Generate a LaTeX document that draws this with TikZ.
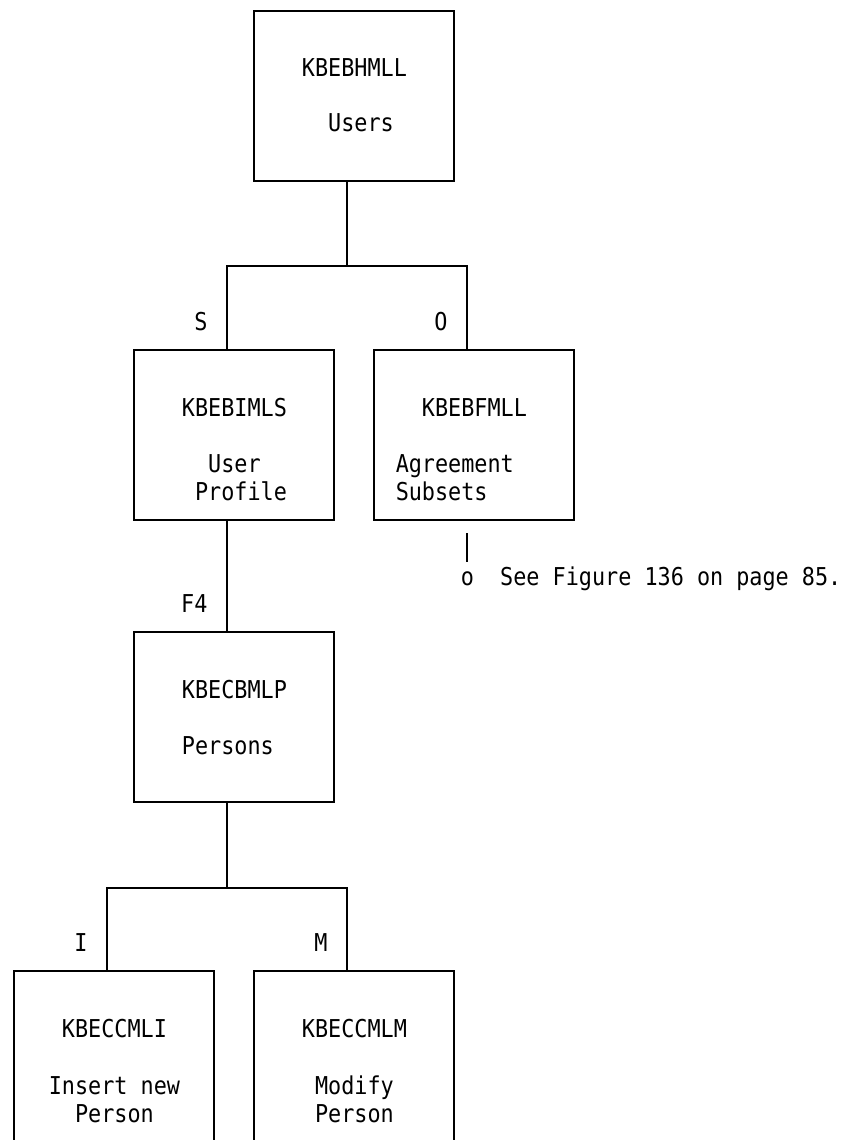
\documentclass[tikz,border=0pt]{standalone}
\usepackage{fontspec}
\setmonofont[FakeStretch=0.886]{DejaVu Sans Mono}

\begin{document}
\begin{tikzpicture}[x=0.02cm, y=-0.02cm,
    box/.style={draw, line width=1pt, minimum width=4cm, minimum height=3.4cm, inner sep=0pt},
    txt/.style={anchor=base west, inner sep=0pt, font=\ttfamily\fontsize{14}{16}\selectfont},
    lbl/.style={txt, anchor=base east},
    link/.style={line width=1pt}]
    \useasboundingbox (0,0) rectangle (850,1140);

    % Program boxes
    \node[box] (users) at (354,96) {};
    \node[box] (profile) at (234,435) {};
    \node[box] (agree) at (474,435) {};
    \node[box] (persons) at (234,717) {};
    \node[box, minimum height=3.5cm] (insert) at (114,1058.5) {};
    \node[box, minimum height=3.5cm] (modify) at (354,1058.5) {};

    % Box texts
    \foreach \x/\y/\t [count=\i] in {
        301.6/76/KBEBHMLL, 327.8/131/Users,
        181.6/416/KBEBIMLS, 207.8/472/User, 194.7/500/Profile,
        421.6/416/KBEBFMLL, 395.4/472/Agreement, 395.4/500/Subsets,
        181.6/698/KBECBMLP, 181.6/754/Persons,
        61.6/1037/KBECCMLI, 48.5/1094/Insert new, 74.7/1122/Person,
        301.6/1037/KBECCMLM, 314.7/1094/Modify, 314.7/1122/Person} {
        \node[txt] (t\i) at (\x,\y) {\t};
    }

    % Connectors
    \draw[link] ([xshift=-1.4mm]users.south) -- ++(0,84) coordinate (fork1);
    \draw[link] (fork1) -| ([xshift=-1.4mm]profile.north);
    \draw[link] (fork1) -| ([xshift=-1.4mm]agree.north);
    \draw[link] ([xshift=-1.4mm]profile.south) -- ([xshift=-1.4mm]persons.north);
    \draw[link] ([xshift=-1.4mm]persons.south) -- ++(0,85) coordinate (fork2);
    \draw[link] (fork2) -| ([xshift=-1.4mm]insert.north);
    \draw[link] (fork2) -| ([xshift=-1.4mm]modify.north);

    % Selection codes
    \node[lbl] (codeS) at (207.8,330) {S};
    \node[lbl] (codeO) at (447.8,330) {O};
    \node[lbl] (codeF4) at (207.8,612.5) {F4};
    \node[lbl] (codeI) at (87.8,951.5) {I};
    \node[lbl] (codeM) at (327.8,951.5) {M};

    % Reference to another figure
    \coordinate (refA) at (467,533);
    \coordinate (refB) at (467,562);
    \draw[link] (refA) -- (refB);
    \node[txt] (ref) at (460.5,585) {o\ \ See Figure 136 on page 85.};
\end{tikzpicture}
\end{document}
